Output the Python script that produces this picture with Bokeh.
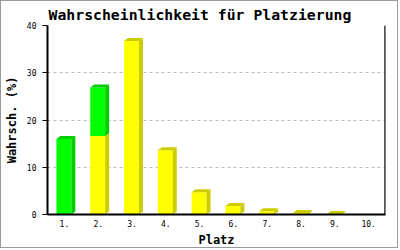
from bokeh.plotting import figure
from bokeh.models import Range1d, Span, FixedTicker
from bokeh.embed import file_html
from bokeh.resources import INLINE

places = ["1.", "2.", "3.", "4.", "5.", "6.", "7.", "8.", "9.", "10."]
yellow = [0, 16.6, 36.7, 13.6, 4.7, 1.8, 0.7, 0.3, 0.1, 0]
green = [16.0, 10.3, 0, 0, 0, 0, 0, 0, 0, 0]
y_ticks = [0, 10, 20, 30, 40]

FONT = "DejaVu Sans Mono"

p = figure(width=398, height=248, output_backend="svg", toolbar_location=None,
           x_range=Range1d(0, 10), y_range=Range1d(0, 40),
           title="Wahrscheinlichkeit für Platzierung",
           min_border_left=42, min_border_right=14, min_border_top=24, min_border_bottom=35)
p.styles = {"border": "1px solid #9a9a9a"}
p.title.align = "left"
p.title.offset = 1
p.title.standoff = 5
p.title.text_font = FONT
p.title.text_font_size = "14.8px"
p.title.text_font_style = "bold"
p.title.text_color = "black"
p.outline_line_color = None
p.background_fill_color = "white"
p.border_fill_color = "white"

# bar geometry (category units)
L, R, DX = 0.235, 0.206, 0.118
DY = 0.635

series = [(yellow, "#FFFF00", "#CCCC00"), (green, "#00FF00", "#00CC00")]
base = [0.0] * len(places)
for vals, front, dark in series:
    fl, fr, fb, ft = [], [], [], []
    sxs, sys, txs, tys = [], [], [], []
    for i, v in enumerate(vals):
        if v <= 0:
            continue
        c = i + 0.5
        b = base[i]
        t = b + v
        l, r = c - L, c + R
        fl.append(l); fr.append(r); fb.append(b); ft.append(t)
        sxs.append([r, r + DX, r + DX, r])
        sys.append([b, b + DY, t + DY, t])
        txs.append([l, l + DX, r + DX, r])
        tys.append([t, t + DY, t + DY, t])
        base[i] = t
    p.quad(left=fl, right=fr, bottom=fb, top=ft, fill_color=front, line_color=None)
    p.patches(xs=sxs, ys=sys, fill_color=dark, line_color=None)
    p.patches(xs=txs, ys=tys, fill_color=dark, line_color=None)

# axes
p.xaxis.ticker = FixedTicker(ticks=[i + 0.5 for i in range(len(places))])
p.xaxis.major_label_overrides = {i + 0.5: s for i, s in enumerate(places)}
p.xaxis.major_tick_out = 0
p.xaxis.major_tick_in = 0
p.xaxis.minor_tick_out = 0
p.xaxis.minor_tick_in = 0
p.xaxis.axis_line_width = 2
p.xaxis.axis_line_color = "black"
p.xaxis.major_label_text_font = FONT
p.xaxis.major_label_text_font_size = "8px"
p.xaxis.major_label_text_color = "black"
p.xaxis.major_label_standoff = 5
p.xaxis.axis_label = "Platz"
p.xaxis.axis_label_text_font = FONT
p.xaxis.axis_label_text_font_size = "12px"
p.xaxis.axis_label_text_font_style = "bold"
p.xaxis.axis_label_text_color = "black"
p.xaxis.axis_label_standoff = 3

p.yaxis.ticker = FixedTicker(ticks=y_ticks)
p.yaxis.major_tick_out = 5
p.yaxis.major_tick_in = 0
p.yaxis.minor_tick_out = 0
p.yaxis.minor_tick_in = 0
p.yaxis.axis_line_width = 2
p.yaxis.axis_line_color = "black"
p.yaxis.major_tick_line_color = "black"
p.yaxis.major_label_text_font = FONT
p.yaxis.major_label_text_font_size = "8px"
p.yaxis.major_label_text_color = "black"
p.yaxis.major_label_standoff = 6
p.yaxis.axis_label = "Wahrsch. (%)"
p.yaxis.axis_label_text_font = FONT
p.yaxis.axis_label_text_font_size = "12px"
p.yaxis.axis_label_text_font_style = "bold"
p.yaxis.axis_label_text_color = "black"
p.yaxis.axis_label_standoff = 5

p.xgrid.grid_line_color = None
p.ygrid.grid_line_color = "#BBBBBB"
p.ygrid.grid_line_dash = "3 3"
p.ygrid.grid_line_width = 1

p.add_layout(Span(location=9.995, dimension="height", line_color="black", line_width=2))

open("out.html", "w").write(file_html(p, INLINE))
